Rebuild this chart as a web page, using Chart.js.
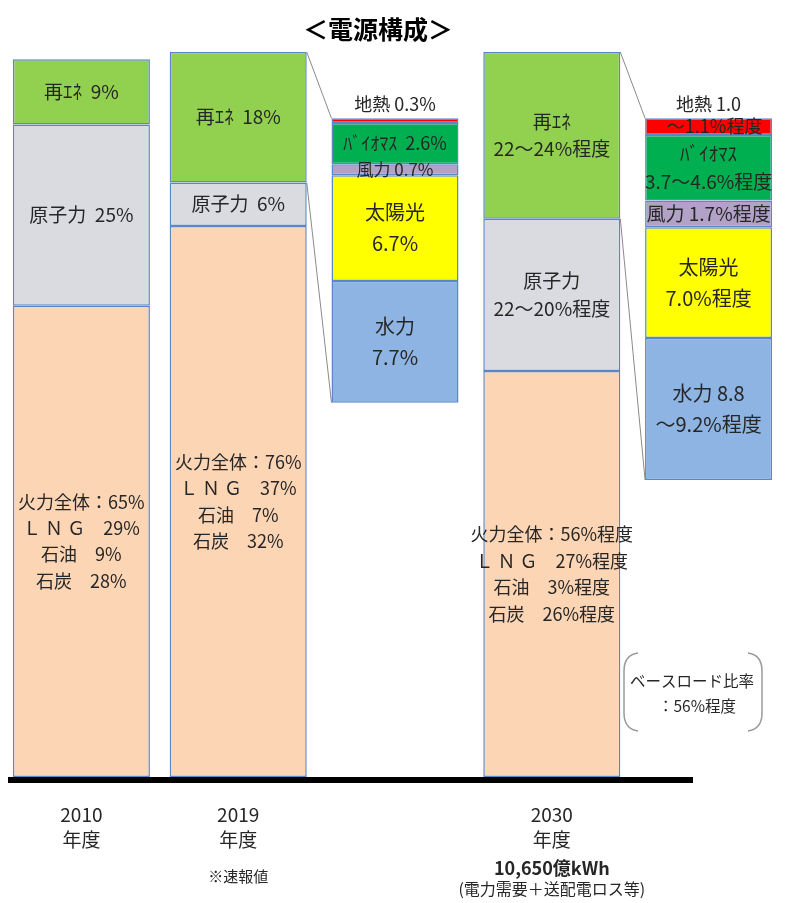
<!DOCTYPE html>
<html lang="ja">
<head>
<meta charset="utf-8">
<title>電源構成</title>
<script src="https://cdn.jsdelivr.net/npm/chart.js@4.4.1/dist/chart.umd.min.js"></script>
<style>
  html, body { margin: 0; padding: 0; background: #fff; }
  #wrap { width: 787px; height: 903px; }
</style>
</head>
<body>
<div id="wrap"><canvas id="mixChart" width="787" height="903"></canvas></div>
<script>
const FONT = '"Noto Sans CJK JP", "Noto Sans", sans-serif';
const INK = '#262626';

// three fiscal years plus the two renewable breakdown columns
const categories = ['2010', '2019', '2019再エネ内訳', '2030', '2030再エネ内訳'];

// share of generation (%) for the main columns
const thermal   = [65, 76, null, 56, null];
const nuclear   = [25, 6, null, 21, null];   // 2030: 22～20%
const renewable = [9, 18, null, 23, null];   // 2030: 22～24%

// thermal detail (%)
const lng  = [29, 37, null, 27, null];
const oil  = [9, 7, null, 3, null];
const coal = [28, 32, null, 26, null];

// renewable breakdown (%)
const geothermal = [null, null, 0.3, null, 1.05]; // 2030: 1.0～1.1%
const biomass    = [null, null, 2.6, null, 4.15]; // 2030: 3.7～4.6%
const wind       = [null, null, 0.7, null, 1.7];
const solar      = [null, null, 6.7, null, 7.0];
const hydro      = [null, null, 7.7, null, 9.0];  // 2030: 8.8～9.2%

// segment texts
const renewableText = ['再ｴﾈ  9%', '再ｴﾈ  18%', null, '再ｴﾈ\n22～24%程度', null];
const nuclearText   = ['原子力  25%', '原子力  6%', null, '原子力\n22～20%程度', null];
const geothermalText = [null, null, '地熱 0.3%', null, '地熱 1.0\n～1.1%程度'];
const biomassText    = [null, null, 'ﾊﾞｲｵﾏｽ  2.6%', null, 'ﾊﾞｲｵﾏｽ\n3.7～4.6%程度'];
const windText       = [null, null, '風力 0.7%', null, '風力 1.7%程度'];
const solarText      = [null, null, '太陽光\n6.7%', null, '太陽光\n7.0%程度'];
const hydroText      = [null, null, '水力\n7.7%', null, '水力 8.8\n～9.2%程度'];

function thermalText(i) {
    if (thermal[i] === null) return null;
    const s = i === 3 ? '程度' : '';
    return [
        '火力全体：' + thermal[i] + '%' + s,
        'Ｌ Ｎ Ｇ　' + lng[i] + '%' + s,
        '石油　' + oil[i] + '%' + s,
        '石炭　' + coal[i] + '%' + s,
    ].join('\n');
}

// labels under the axis
const yearLabels = [['2010', '年度'], ['2019', '年度'], null, ['2030', '年度'], null];

const EDGE = '#5b87c9';

function bar(label, data, color, texts, axis, size, lineHeight) {
    const main = axis === 'y';
    return {
        label: label,
        data: data,
        texts: texts,
        fontSize: size,
        lineHeight: lineHeight || 1.55,
        yAxisID: axis,
        backgroundColor: color,
        borderColor: EDGE,
        borderWidth: 1.5,
        borderSkipped: false,
        categoryPercentage: 1,
        barPercentage: main ? 0.874 : 0.81,
    };
}

// writes the text of each segment in its middle
const segmentLabels = {
    id: 'segmentLabels',
    afterDatasetsDraw(chart) {
        const ctx = chart.ctx;
        ctx.save();
        ctx.fillStyle = INK;
        ctx.textAlign = 'center';
        ctx.textBaseline = 'middle';
        chart.data.datasets.forEach((ds, di) => {
            const meta = chart.getDatasetMeta(di);
            meta.data.forEach((el, i) => {
                const t = ds.texts[i];
                if (!t) return;
                const lines = t.split('\n');
                const size = ds.fontSize[i] || ds.fontSize[0];
                const lh = size * ds.lineHeight;
                ctx.font = size + 'px ' + FONT;
                const top = Math.min(el.y, el.base);
                const mid = (el.y + el.base) / 2;
                if (ds.labelAbove) {
                    // first line sits above the thin bar, the rest inside it
                    ctx.fillText(lines[0], el.x, top - 14);
                    lines.slice(1).forEach((l, k) => ctx.fillText(l, el.x + 6, mid + k * lh));
                    return;
                }
                const y0 = mid - (lines.length - 1) * lh / 2;
                lines.forEach((l, k) => ctx.fillText(l, el.x, y0 + k * lh));
            });
        });
        ctx.restore();
    }
};

// title, base line, zoom connectors, notes
const decorations = {
    id: 'decorations',
    beforeDatasetsDraw(chart) {
        const ctx = chart.ctx;
        const y2 = chart.scales.y2;
        const reMeta = chart.getDatasetMeta(2);
        const geoMeta = chart.getDatasetMeta(3);
        ctx.save();
        ctx.strokeStyle = '#8a8a8a';
        ctx.lineWidth = 1;
        [[1, 2], [3, 4]].forEach(([m, d]) => {
            const re = reMeta.data[m];
            const geo = geoMeta.data[d];
            const right = re.x + re.width / 2;
            const left = geo.x - geo.width / 2;
            let total = 0;
            [geothermal, biomass, wind, solar, hydro].forEach(s => total += s[d]);
            ctx.beginPath();
            ctx.moveTo(right, re.y);
            ctx.lineTo(left, y2.getPixelForValue(0));
            ctx.moveTo(right, re.base);
            ctx.lineTo(left, y2.getPixelForValue(total));
            ctx.stroke();
        });
        ctx.restore();
    },
    afterDraw(chart) {
        const ctx = chart.ctx;
        const x = chart.scales.x;
        const base = chart.scales.y.getPixelForValue(0);
        ctx.save();

        // thick base line
        ctx.fillStyle = '#000';
        ctx.fillRect(8, base, 685, 6);

        // title
        ctx.textAlign = 'center';
        ctx.textBaseline = 'middle';
        ctx.font = 'bold 25px ' + FONT;
        ctx.fillText('＜電源構成＞', 378, 29);

        // years under the columns
        ctx.fillStyle = INK;
        ctx.font = '19px ' + FONT;
        yearLabels.forEach((lines, i) => {
            if (!lines) return;
            const cx = x.getPixelForValue(i);
            lines.forEach((l, k) => ctx.fillText(l, cx, base + 38 + k * 25));
        });
        const c2019 = x.getPixelForValue(1);
        const c2030 = x.getPixelForValue(3);
        ctx.font = '15px ' + FONT;
        ctx.fillText('※速報値', c2019, base + 99);
        ctx.font = 'bold 18px ' + FONT;
        ctx.fillText('10,650億kWh', c2030, base + 91);
        ctx.font = '16px ' + FONT;
        ctx.fillText('(電力需要＋送配電ロス等)', c2030, base + 112);

        // base load note in round brackets
        ctx.font = '15.5px ' + FONT;
        ctx.fillText('ベースロード比率', 692, 681);
        ctx.fillText('：56%程度', 697, 706);
        ctx.strokeStyle = '#9a9a9a';
        ctx.lineWidth = 1.5;
        ctx.beginPath();
        ctx.moveTo(638, 653);
        ctx.quadraticCurveTo(624, 655, 624, 671);
        ctx.lineTo(624, 713);
        ctx.quadraticCurveTo(624, 729, 638, 731);
        ctx.moveTo(748, 653);
        ctx.quadraticCurveTo(762, 655, 762, 671);
        ctx.lineTo(762, 713);
        ctx.quadraticCurveTo(762, 729, 748, 731);
        ctx.stroke();
        ctx.restore();
    }
};

const ctx = document.getElementById('mixChart').getContext('2d');
const mixChart = new Chart(ctx, {
    type: 'bar',
    data: {
        labels: categories,
        datasets: [
            bar('火力', thermal, '#fcd5b5', categories.map((c, i) => thermalText(i)), 'y', [18], 1.47),
            bar('原子力', nuclear, '#d9dbe0', nuclearText, 'y', [19], 1.45),
            bar('再エネ', renewable, '#92d050', renewableText, 'y', [19], 1.45),
            Object.assign(bar('地熱', geothermal, '#ff0000', geothermalText, 'y2', [18]), { labelAbove: true }),
            bar('バイオマス', biomass, '#00b050', biomassText, 'y2', [18, 18, 18, 18, 19], 1.45),
            bar('風力', wind, '#b3a2c7', windText, 'y2', [17, 17, 17, 17, 19]),
            bar('太陽光', solar, '#ffff00', solarText, 'y2', [20]),
            bar('水力', hydro, '#8db4e2', hydroText, 'y2', [20]),
        ],
    },
    options: {
        responsive: false,
        animation: false,
        layout: { padding: { left: 3, right: 0, top: 52, bottom: 126 } },
        plugins: {
            legend: { display: false },
            tooltip: { enabled: false },
        },
        scales: {
            x: { display: false, stacked: true },
            y: { display: false, stacked: true, min: 0, max: 100 },
            // breakdown columns are a magnified view, drawn top-down
            y2: { display: false, stacked: true, reverse: true, min: -4.2, max: 41.7 },
        },
    },
    plugins: [decorations, segmentLabels],
});
</script>
</body>
</html>
